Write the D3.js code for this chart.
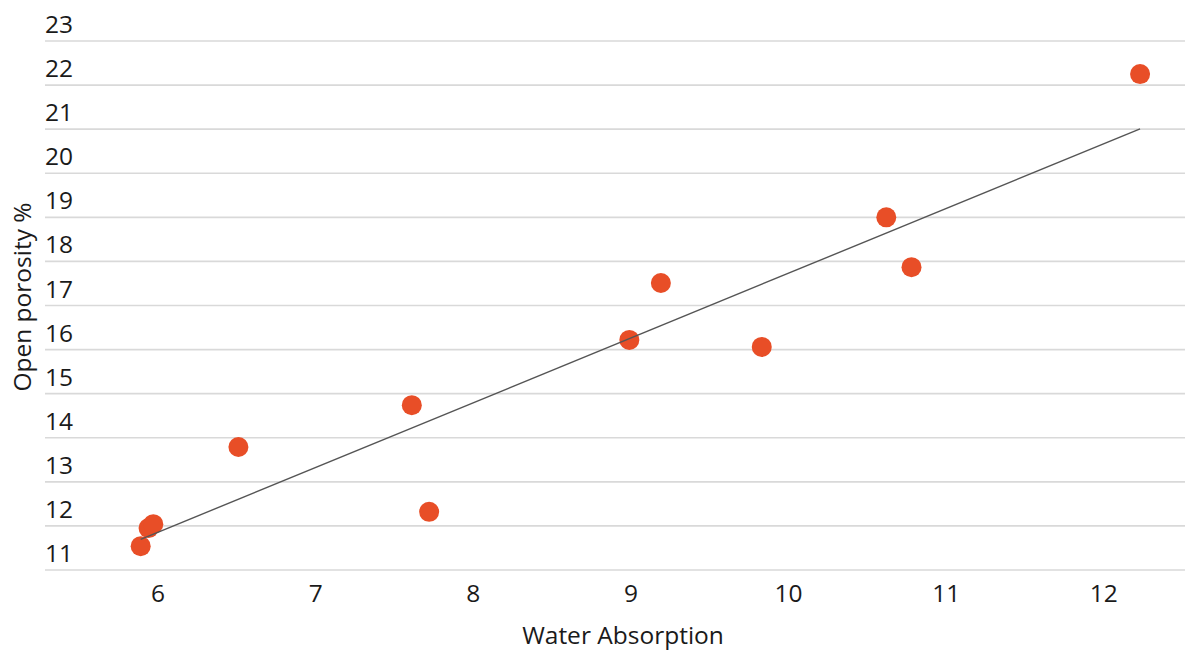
<!DOCTYPE html>
<html><head><meta charset="utf-8">
<script src="https://cdn.jsdelivr.net/npm/d3@7"></script>
<style>body{margin:0;background:#fff;}svg{display:block;font-family:"Open Sans",sans-serif;}</style>
</head><body><svg id="c" width="1200" height="658"></svg>
<script>
const waterAbsorption = [5.89,5.94,5.97,6.51,7.61,7.72,8.99,9.19,9.83,10.62,10.78,12.23];
const openPorosity   = [11.54,11.95,12.04,13.79,14.74,12.32,16.22,17.51,16.06,19.0,17.87,22.25];
const xTicks = [6,7,8,9,10,11,12];
const yTicks = [11,12,13,14,15,16,17,18,19,20,21,22,23];
const xTitle = "Water Absorption";
const yTitle = "Open porosity %";

const svg = d3.select("#c");
const x = d3.scaleLinear().domain([5.283,12.515]).range([45,1185]);
const y = d3.scaleLinear().domain([11,23]).range([570,41]);
const fs = 24.5, tc = "#1a1a1a";

// grid
svg.append("g").selectAll("line").data(yTicks).join("line")
  .attr("x1",45).attr("x2",1185).attr("y1",d=>y(d)).attr("y2",d=>y(d))
  .attr("stroke","#d9d9d9").attr("stroke-width",1.6);
// y labels
svg.append("g").selectAll("text").data(yTicks).join("text")
  .attr("x",45).attr("y",d=>y(d)-8).text(d=>d)
  .attr("font-size",fs).attr("fill",tc);
// x labels
svg.append("g").selectAll("text").data(xTicks).join("text")
  .attr("x",d=>x(d)).attr("y",602).attr("text-anchor","middle").text(d=>d)
  .attr("font-size",fs).attr("fill",tc);
// titles
svg.append("text").attr("x",623).attr("y",644).attr("text-anchor","middle")
  .attr("font-size",fs).attr("fill",tc).text(xTitle);
svg.append("text").attr("transform","translate(31,297) rotate(-90)").attr("text-anchor","middle")
  .attr("font-size",fs).attr("fill",tc).text(yTitle);

// trendline (least squares)
const n = waterAbsorption.length;
const mx = d3.mean(waterAbsorption), my = d3.mean(openPorosity);
let sxy=0,sxx=0;
for(let i=0;i<n;i++){sxy+=(waterAbsorption[i]-mx)*(openPorosity[i]-my);sxx+=(waterAbsorption[i]-mx)**2;}
const b = sxy/sxx, a = my-b*mx;
const x0 = d3.min(waterAbsorption), x1 = d3.max(waterAbsorption);

// points
svg.append("g").selectAll("circle").data(waterAbsorption).join("circle")
  .attr("cx",d=>x(d)).attr("cy",(d,i)=>y(openPorosity[i])).attr("r",10)
  .attr("fill","#e84e27");
svg.append("line").attr("x1",x(x0)).attr("y1",y(a+b*x0)).attr("x2",x(x1)).attr("y2",y(a+b*x1))
  .attr("stroke","#555").attr("stroke-width",1.4);
</script></body></html>
